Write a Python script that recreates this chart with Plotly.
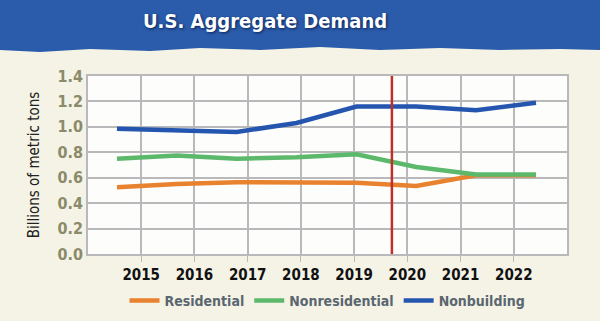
import plotly.graph_objects as go

years = [2015, 2016, 2017, 2018, 2019, 2020, 2021, 2022]
residential = [0.525, 0.55, 0.565, 0.56, 0.56, 0.535, 0.62, 0.62]
nonresidential = [0.75, 0.775, 0.75, 0.76, 0.785, 0.685, 0.625, 0.625]
nonbuilding = [0.985, 0.975, 0.96, 1.03, 1.16, 1.16, 1.13, 1.19]
y_ticks = [0.0, 0.2, 0.4, 0.6, 0.8, 1.0, 1.2, 1.4]
marker_year = 2019.71

W, H = 600, 321
ML, MR, MT, MB = 88, 33, 76, 67
PW, PH = W - ML - MR, H - MT - MB


def px(x, y):
    return (x - ML) / PW, (H - MB - y) / PH


COND = "DejaVu Sans Condensed, DejaVu Sans, sans-serif"

fig = go.Figure()
series = [("Residential", residential, "#e8822f"),
          ("Nonresidential", nonresidential, "#5cb96b"),
          ("Nonbuilding", nonbuilding, "#2456b0")]
for name, vals, col in series:
    fig.add_trace(go.Scatter(x=years, y=vals, name=name, mode="lines",
                             line=dict(color=col, width=4.5),
                             xaxis="x2", yaxis="y"))

# banner with ragged lower edge
edge = [(0, 50), (40, 52), (90, 49), (150, 51), (200, 48), (260, 50), (320, 47),
        (380, 50), (440, 48), (500, 50), (560, 49), (600, 50)]
pts = [px(0, 0), px(600, 0)] + [px(x, y) for x, y in reversed(edge)]
path = "M " + " L ".join(f"{a:.4f},{b:.4f}" for a, b in pts) + " Z"
shapes = [dict(type="path", xref="paper", yref="paper", path=path,
               fillcolor="#2b5cab", line=dict(width=0), layer="below"),
          dict(type="line", xref="x", yref="y", x0=marker_year, x1=marker_year,
               y0=0, y1=1.4, line=dict(color="#c0302a", width=2.5))]

tx, ty = px(265, 21)
lx, ly = px(0, 301)
fig.update_layout(
    width=W, height=H,
    margin=dict(l=ML, r=MR, t=MT, b=MB, autoexpand=False),
    paper_bgcolor="#f5f3e6",
    plot_bgcolor="#fdfdfb",
    shapes=shapes,
    annotations=[dict(text="U.S. Aggregate Demand", xref="paper", yref="paper",
                      x=tx, y=ty, showarrow=False, xanchor="center", yanchor="middle",
                      font=dict(family=COND, size=20, color="white", weight="bold",
                                shadow="1px 1px 3px #0a2050"))],
    xaxis=dict(range=[2014, 2023], tickvals=years, ticktext=[str(y) for y in years],
               showgrid=True, gridcolor="#b9b9bb", gridwidth=1.5,
               showline=True, linecolor="#b9b9bb", linewidth=1.5, mirror=True,
               ticks="outside", ticklen=6, tickcolor="#b9b9bb",
               tickfont=dict(family=COND, size=15, color="#111111", weight="bold"),
               zeroline=False, fixedrange=True),
    xaxis2=dict(overlaying="x", range=[2014.516, 2022.518], visible=False),
    yaxis=dict(range=[0, 1.4], tickvals=y_ticks, ticktext=[f"{v:.1f}" for v in y_ticks],
               showgrid=True, gridcolor="#b9b9bb", gridwidth=1.5,
               showline=True, linecolor="#b9b9bb", linewidth=1.5, mirror=True,
               ticks="", zeroline=False,
               tickfont=dict(family=COND, size=16, color="#8a8b6a", weight="bold"),
               title=dict(text="Billions of metric tons", standoff=14,
                          font=dict(family="DejaVu Sans Condensed, DejaVu Sans, sans-serif",
                                    size=15, color="#222222"))),
    legend=dict(orientation="h", x=0.5, xanchor="center", y=ly, yanchor="middle",
                bgcolor="rgba(0,0,0,0)", itemwidth=30,
                font=dict(family=COND, size=14, color="#5a6670", weight="bold")),
    showlegend=True,
)

fig.write_html("out.html")
